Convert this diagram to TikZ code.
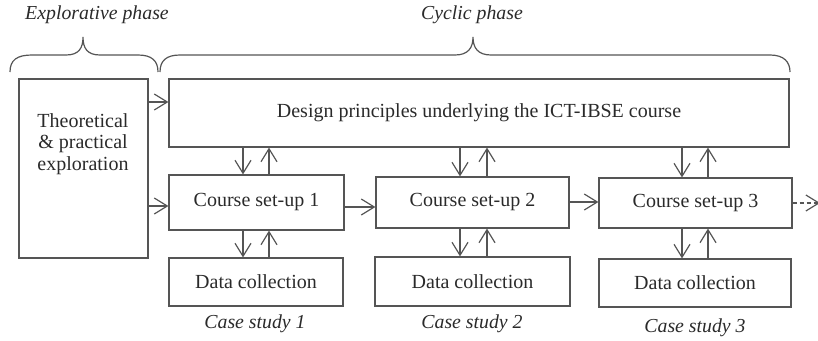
\documentclass[tikz,border=0pt]{standalone}
\usepackage{fontspec}
\setmainfont{Liberation Serif}
\usetikzlibrary{arrows.meta}
\definecolor{ln}{HTML}{555555}
\definecolor{tx}{HTML}{2a2a2a}
\begin{document}
\begin{tikzpicture}[x=1pt,y=-1pt,
  box/.style={draw=ln,line width=1.2pt,inner sep=0pt,text=tx,font=\fontsize{20}{21.5}\selectfont},
  lbl/.style={text=tx,font=\fontsize{19.8}{21}\selectfont\itshape,inner sep=0pt},
  arr/.style={draw=ln,line width=1.2pt,-{Straight Barb[length=13pt,width=16pt,line width=1.2pt]}},
  brace/.style={draw=ln,line width=1.2pt}]
\useasboundingbox (0,0) rectangle (818,340);
% braces
\draw[brace] (10,72) .. controls (10,60) and (17,55) .. (32,55) -- (66,55) .. controls (79,55) and (83,48) .. (83,37) .. controls (83,48) and (87,55) .. (100,55) -- (138,55) .. controls (152,55) and (158,61) .. (158,72);
\draw[brace] (160,72) .. controls (160,61) and (166,55) .. (180,55) -- (455,55) .. controls (468,55) and (473,48) .. (473,37) .. controls (473,48) and (478,55) .. (491,55) -- (770,55) .. controls (784,55) and (790,62) .. (790,72);
\node[lbl] (expl) at (97,15) {Explorative phase};
\node[lbl] (cycl) at (472,15) {Cyclic phase};
% boxes
\node[box,minimum width=129pt,minimum height=179pt] (theo) at (83.5,168.5) {};
\node[text=tx,font=\fontsize{20}{21.5}\selectfont,align=center,inner sep=0pt] (theotxt) at (83,144) {Theoretical\\\& practical\\exploration};
\node[box,minimum width=620pt,minimum height=68pt] (design) at (479,113) {Design principles underlying the ICT-IBSE course};
\node[box,minimum width=175pt,minimum height=55pt] (c1) at (256.5,202.5) {Course set-up 1};
\node[box,minimum width=193pt,minimum height=51pt] (c2) at (472.5,202.5) {Course set-up 2};
\node[box,minimum width=193pt,minimum height=50pt] (c3) at (695.5,203) {Course set-up 3};
\node[box,minimum width=174pt,minimum height=48pt] (d1) at (256,282) {Data collection};
\node[box,minimum width=195pt,minimum height=49pt] (d2) at (472.5,281.5) {Data collection};
\node[box,minimum width=192pt,minimum height=48pt] (d3) at (695,283) {Data collection};
\node[lbl] (cs1) at (255,324) {Case study 1};
\node[lbl] (cs2) at (472,324) {Case study 2};
\node[lbl] (cs3) at (695,328) {Case study 3};
% helper coordinates
\coordinate (ya) at (0,102);
\coordinate (yb) at (0,206);
\coordinate (yc) at (0,207);
\coordinate (yd) at (0,202);
\coordinate (ye) at (0,203);
\coordinate (dn1) at (243,0); \coordinate (up1) at (269,0);
\coordinate (dn2) at (460,0); \coordinate (up2) at (487,0);
\coordinate (dn3) at (682,0); \coordinate (up3) at (708,0);
\coordinate (dashend) at (820,203);
% horizontal arrows
\draw[arr] (theo.east |- ya) -- (design.west |- ya);
\draw[arr] (theo.east |- yb) -- (c1.west |- yb);
\draw[arr] (c1.east |- yc) -- (c2.west |- yc);
\draw[arr] (c2.east |- yd) -- (c3.west |- yd);
\draw[arr,dash pattern=on 4pt off 3pt] (c3.east |- ye) -- (dashend);
% vertical arrows
\draw[arr] (design.south -| dn1) -- (c1.north -| dn1);
\draw[arr] (c1.north -| up1) -- (design.south -| up1);
\draw[arr] (design.south -| dn2) -- (c2.north -| dn2);
\draw[arr] (c2.north -| up2) -- (design.south -| up2);
\draw[arr] (design.south -| dn3) -- (c3.north -| dn3);
\draw[arr] (c3.north -| up3) -- (design.south -| up3);
\draw[arr] (c1.south -| dn1) -- (d1.north -| dn1);
\draw[arr] (d1.north -| up1) -- (c1.south -| up1);
\draw[arr] (c2.south -| dn2) -- (d2.north -| dn2);
\draw[arr] (d2.north -| up2) -- (c2.south -| up2);
\draw[arr] (c3.south -| dn3) -- (d3.north -| dn3);
\draw[arr] (d3.north -| up3) -- (c3.south -| up3);
\end{tikzpicture}
\end{document}
